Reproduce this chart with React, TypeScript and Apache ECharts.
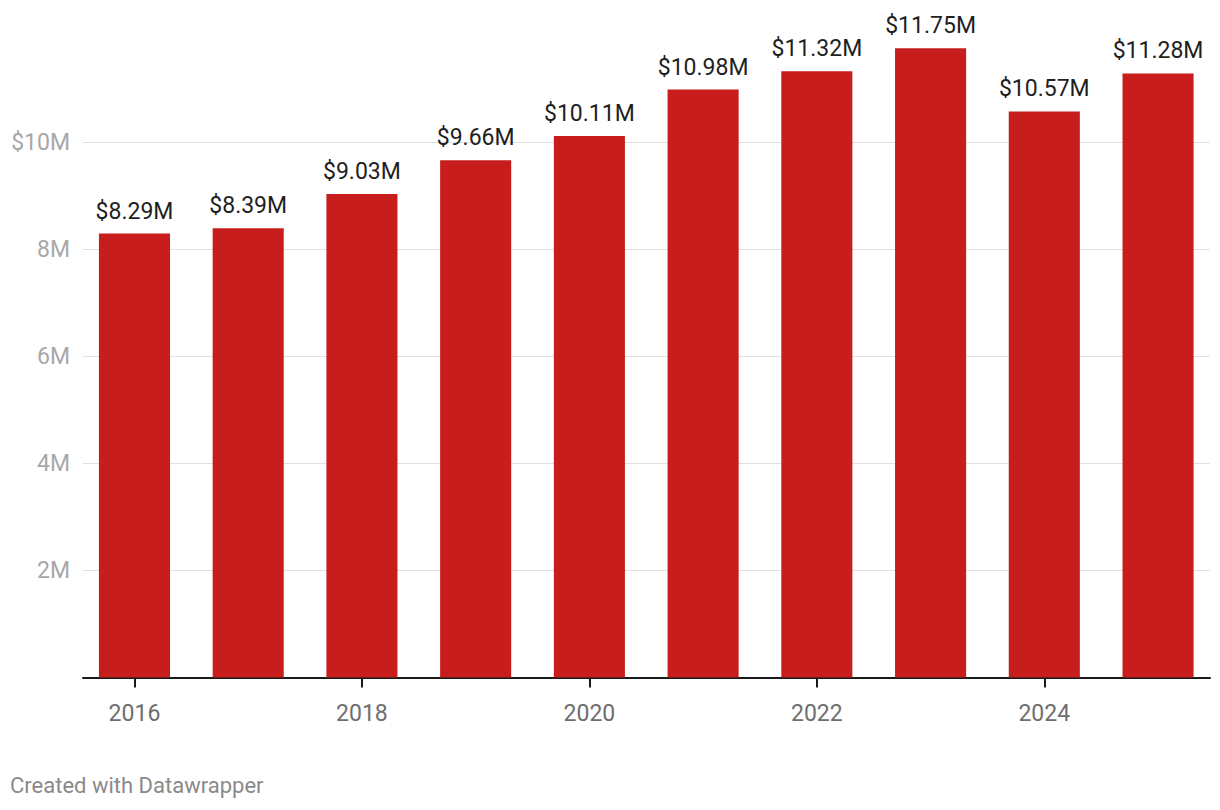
import React, { useEffect, useRef } from "react";
import * as echarts from "echarts";

const years = ["2016", "2017", "2018", "2019", "2020", "2021", "2022", "2023", "2024", "2025"];
const revenue = [8.29, 8.39, 9.03, 9.66, 10.11, 10.98, 11.32, 11.75, 10.57, 11.28];
const yTicks = [0, 2, 4, 6, 8, 10, 12];

const FONT = "Roboto, 'Noto Sans', sans-serif";

export default function App() {
  const ref = useRef<HTMLDivElement>(null);
  useEffect(() => {
    document.body.style.margin = "0";
    if (!ref.current) return;
    const chart = echarts.init(ref.current, null, { renderer: "svg" });
    const top = 34.9;
    const bottom = 132.5;
    chart.setOption({
      animation: false,
      backgroundColor: "#ffffff",
      textStyle: { fontFamily: FONT },
      grid: [
        { left: 83, right: 10, top, bottom },
        { left: 77.6, right: 5.1, top, bottom },
      ],
      xAxis: [
        {
          type: "category",
          gridIndex: 0,
          data: years,
          axisLine: { show: true, lineStyle: { color: "#1a1a1a", width: 2 } },
          axisTick: { show: false },
          axisLabel: { show: false },
          splitLine: { show: false },
        },
        {
          type: "category",
          gridIndex: 1,
          data: years,
          axisLine: { show: false },
          axisTick: {
            show: true,
            alignWithLabel: true,
            interval: 1,
            length: 10,
            lineStyle: { color: "#1a1a1a", width: 2 },
          },
          axisLabel: {
            show: true,
            interval: 1,
            margin: 24,
            color: "#6e6e6e",
            fontSize: 23,
            fontFamily: FONT,
          },
        },
      ],
      yAxis: [
        {
          type: "value",
          gridIndex: 0,
          min: yTicks[0],
          max: yTicks[yTicks.length - 1],
          interval: 2,
          axisLine: { show: false },
          axisTick: { show: false },
          axisLabel: {
            margin: 13,
            color: "#a8a8a8",
            fontSize: 23,
            fontFamily: FONT,
            formatter: (v: number) => (v === 0 || v === 12 ? "" : v === 10 ? "$10M" : v + "M"),
          },
          splitLine: {
            show: true,
            lineStyle: {
              color: ["#e0e0e0", "#e0e0e0", "#e0e0e0", "#e0e0e0", "#e0e0e0", "#e0e0e0", "rgba(0,0,0,0)"],
              width: 1,
            },
          },
        },
        {
          type: "value",
          gridIndex: 1,
          min: yTicks[0],
          max: yTicks[yTicks.length - 1],
          interval: 2,
          show: false,
          splitLine: { show: false },
        },
      ],
      series: [
        {
          type: "bar",
          xAxisIndex: 1,
          yAxisIndex: 1,
          data: revenue,
          barWidth: "62.5%",
          itemStyle: { color: "#c71e1d" },
          label: {
            show: true,
            position: "top",
            distance: 11,
            color: "#1f1f1f",
            fontSize: 23,
            fontFamily: FONT,
            formatter: (p: any) => "$" + p.value.toFixed(2) + "M",
          },
        },
      ],
      graphic: [
        {
          type: "text",
          left: 10,
          top: 774,
          style: {
            text: "Created with Datawrapper",
            fill: "#8a8a8a",
            fontSize: 22,
            fontFamily: FONT,
          },
        },
      ],
    });
    return () => chart.dispose();
  }, []);
  return <div ref={ref} style={{ width: 1220, height: 810 }} />;
}
